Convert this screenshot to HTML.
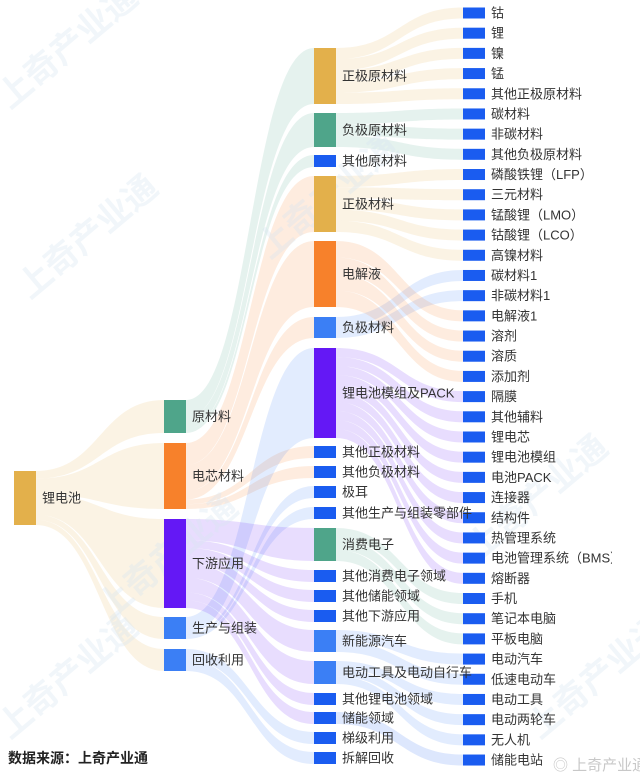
<!DOCTYPE html>
<html><head><meta charset="utf-8">
<style>
html,body{margin:0;padding:0;background:#fff;}
svg{display:block;font-family:"Liberation Sans","Noto Sans CJK SC",sans-serif;}
</style></head>
<body>
<svg id="s" width="640" height="781" viewBox="0 0 640 781">
<defs><clipPath id="cp"><rect x="0" y="0" width="612" height="781"/></clipPath></defs>
<g id="links"></g>
<g font-size="34" fill="#d6e4f0" fill-opacity="0.35" font-weight="bold">
<text transform="translate(10,110) rotate(-40)">上奇产业通</text>
<text transform="translate(30,300) rotate(-40)">上奇产业通</text>
<text transform="translate(110,620) rotate(-40)">上奇产业通</text>
<text transform="translate(270,260) rotate(-40)">上奇产业通</text>
<text transform="translate(480,560) rotate(-40)">上奇产业通</text>
<text transform="translate(540,740) rotate(-40)">上奇产业通</text>
<text transform="translate(10,740) rotate(-40)">上奇产业通</text>
</g>
<g id="nodes"></g><g id="labels" clip-path="url(#cp)"></g>
<text x="8" y="763" font-size="14" fill="#222" font-weight="bold">数据来源：上奇产业通</text>
<text x="553" y="770" font-size="15" fill="#c8c8c8">◎ 上奇产业通</text>
</svg>
<script>
var B='#1a5cf0';
var N={
'锂电池':[14,471,525,'#e3b04b'],
'原材料':[164,400,433,'#4fa58a'],
'电芯材料':[164,443,509,'#f7812b'],
'下游应用':[164,519,608,'#6418f5'],
'生产与组装':[164,617,639,'#3b7ff5'],
'回收利用':[164,649,671,'#3b7ff5'],
'正极原材料':[314,48,104,'#e3b04b'],
'负极原材料':[314,113,147,'#4fa58a'],
'其他原材料':[314,155,167,B],
'正极材料':[314,176,232,'#e3b04b'],
'电解液':[314,241,307,'#f7812b'],
'负极材料':[314,317,338,'#3b7ff5'],
'锂电池模组及PACK':[314,348,438,'#6418f5'],
'其他正极材料':[314,446,458,B],
'其他负极材料':[314,466,478,B],
'极耳':[314,486,498,B],
'其他生产与组装零部件':[314,507,519,B],
'消费电子':[314,528,561,'#4fa58a'],
'其他消费电子领域':[314,570,582,B],
'其他储能领域':[314,590,602,B],
'其他下游应用':[314,610,622,B],
'新能源汽车':[314,630,652,'#3b7ff5'],
'电动工具及电动自行车':[314,661,684,'#3b7ff5'],
'其他锂电池领域':[314,693,705,B],
'储能领域':[314,712,724,B],
'梯级利用':[314,732,744,B],
'拆解回收':[314,752,764,B]};
var c4=['钴','锂','镍','锰','其他正极原材料','碳材料','非碳材料','其他负极原材料','磷酸铁锂（LFP）','三元材料','锰酸锂（LMO）','钴酸锂（LCO）','高镍材料','碳材料1','非碳材料1','电解液1','溶剂','溶质','添加剂','隔膜','其他辅料','锂电芯','锂电池模组','电池PACK','连接器','结构件','热管理系统','电池管理系统（BMS）','熔断器','手机','笔记本电脑','平板电脑','电动汽车','低速电动车','电动工具','电动两轮车','无人机','储能电站'];
c4.forEach(function(n,i){var c=13+i*20.19;N[n]=[463,c-5.5,c+5.5,B];});
var L={
'锂电池':['原材料','电芯材料','下游应用','生产与组装','回收利用'],
'原材料':['正极原材料','负极原材料','其他原材料'],
'电芯材料':['正极材料','电解液','负极材料','其他正极材料','其他负极材料'],
'生产与组装':['锂电池模组及PACK','极耳','其他生产与组装零部件'],
'下游应用':['消费电子','其他消费电子领域','其他储能领域','其他下游应用','新能源汽车','电动工具及电动自行车','其他锂电池领域','储能领域'],
'回收利用':['梯级利用','拆解回收'],
'正极原材料':['钴','锂','镍','锰','其他正极原材料'],
'负极原材料':['碳材料','非碳材料','其他负极原材料'],
'正极材料':['磷酸铁锂（LFP）','三元材料','锰酸锂（LMO）','钴酸锂（LCO）','高镍材料'],
'负极材料':['碳材料1','非碳材料1'],
'电解液':['电解液1','溶剂','溶质','添加剂'],
'锂电池模组及PACK':['隔膜','其他辅料','锂电芯','锂电池模组','电池PACK','连接器','结构件','热管理系统','电池管理系统（BMS）','熔断器'],
'消费电子':['手机','笔记本电脑','平板电脑'],
'新能源汽车':['电动汽车','低速电动车'],
'电动工具及电动自行车':['电动工具','电动两轮车','无人机'],
'储能领域':['储能电站']};
var ns='http://www.w3.org/2000/svg';
function el(t,a,p){var e=document.createElementNS(ns,t);for(var k in a)e.setAttribute(k,a[k]);document.getElementById(p).appendChild(e);return e;}
for(var s in L){var S=N[s],ts=L[s],tot=0;ts.forEach(function(t){tot+=N[t][2]-N[t][1];});
var y=S[1],h=S[2]-S[1];
ts.forEach(function(t){var T=N[t],th=T[2]-T[1],sh=th/tot*h;
var x0=S[0]+22,x1=T[0],m=(x0+x1)/2;
var d='M'+x0+','+y+' C'+m+','+y+' '+m+','+T[1]+' '+x1+','+T[1]+' L'+x1+','+T[2]+' C'+m+','+T[2]+' '+m+','+(y+sh)+' '+x0+','+(y+sh)+' Z';
el('path',{d:d,fill:S[3],'fill-opacity':0.15},'links');y+=sh;});}
for(var n in N){var v=N[n];el('rect',{x:v[0],y:v[1],width:22,height:v[2]-v[1],fill:v[3]},'nodes');
var tx=el('text',{x:v[0]+28,y:(v[1]+v[2])/2+4.5,'font-size':13,fill:'#333'},'labels');tx.textContent=n;}
</script>
</body></html>
